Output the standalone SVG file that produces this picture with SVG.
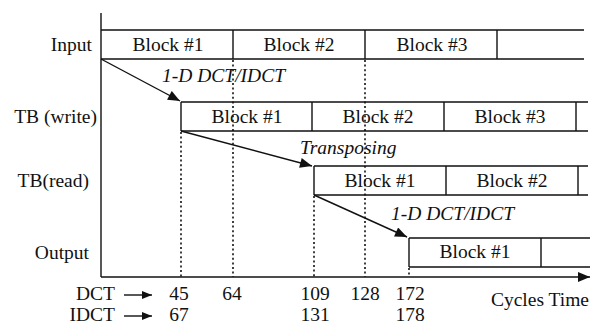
<svg xmlns="http://www.w3.org/2000/svg" width="590" height="327" viewBox="0 0 590 327">
<style>
text{font-family:'Liberation Serif','Times New Roman','DejaVu Serif',serif;font-size:19.5px;fill:#111}
.it{font-style:italic}
.m{text-anchor:middle}
.e{text-anchor:end}
.ln{stroke:#111;stroke-width:1.4;fill:none}
.dot{stroke:#111;stroke-width:1.6;stroke-dasharray:2 2.6;fill:none}
</style>
<defs>
<marker id="ah" viewBox="0 0 12 10" refX="12" refY="5" markerWidth="13" markerHeight="10" markerUnits="userSpaceOnUse" orient="auto">
<path d="M0,0 L12,5 L0,10 z" fill="#111"/>
</marker>
<marker id="sh" viewBox="0 0 10 8" refX="10" refY="4" markerWidth="10" markerHeight="8" markerUnits="userSpaceOnUse" orient="auto">
<path d="M0,0 L10,4 L0,8 z" fill="#111"/>
</marker>
</defs>
<g id="axes">
<line class="ln" x1="101" y1="13" x2="101" y2="277"/>
<line class="ln" x1="101" y1="277" x2="590" y2="277" marker-end="url(#ah)"/>
<text x="589" y="306" class="e">Cycles Time</text>
</g>
<g id="row-input">
<text x="92" y="51" class="e">Input</text>
<path class="ln" d="M101,30 H584 M101,59 H584 M233,30 V59 M365,30 V59 M497,30 V59"/>
<text x="168" y="51" class="m">Block #1</text>
<text x="299" y="51" class="m">Block #2</text>
<text x="432" y="51" class="m">Block #3</text>
</g>
<g id="row-tbwrite">
<text x="97" y="123" class="e">TB (write)</text>
<path class="ln" d="M181,102 H588 M181,131 H588 M181,102 V131 M312,102 V131 M444,102 V131 M576,102 V131"/>
<text x="247" y="123" class="m">Block #1</text>
<text x="378" y="123" class="m">Block #2</text>
<text x="510" y="123" class="m">Block #3</text>
</g>
<g id="row-tbread">
<text x="89" y="187" class="e">TB(read)</text>
<path class="ln" d="M314,166 H588 M314,195 H588 M314,166 V195 M446,166 V195 M578,166 V195"/>
<text x="380" y="187" class="m">Block #1</text>
<text x="512" y="187" class="m">Block #2</text>
</g>
<g id="row-output">
<text x="89" y="259" class="e">Output</text>
<path class="ln" d="M409,238 H590 M409,267 H590 M409,238 V267 M541,238 V267"/>
<text x="475" y="258" class="m">Block #1</text>
</g>
<g id="connectors">
<line class="ln" x1="101" y1="59" x2="180" y2="101" marker-end="url(#ah)"/>
<line class="ln" x1="181" y1="131" x2="312" y2="166" marker-end="url(#ah)"/>
<line class="ln" x1="314" y1="195" x2="407" y2="237" marker-end="url(#ah)"/>
<line class="dot" x1="181" y1="132" x2="181" y2="277"/>
<line class="dot" x1="233" y1="60" x2="233" y2="277"/>
<line class="dot" x1="314" y1="196" x2="314" y2="277"/>
<line class="dot" x1="365" y1="60" x2="365" y2="277"/>
<line class="dot" x1="409" y1="268" x2="409" y2="277"/>
<line class="ln" x1="124" y1="295" x2="152" y2="295" marker-end="url(#sh)"/>
<line class="ln" x1="124" y1="316" x2="152" y2="316" marker-end="url(#sh)"/>
</g>
<g id="labels">
<text x="162" y="82" class="it">1-D DCT/IDCT</text>
<text x="300" y="154" class="it">Transposing</text>
<text x="391" y="220" class="it">1-D DCT/IDCT</text>
<text x="115" y="300" class="e">DCT</text>
<text x="115" y="321" class="e">IDCT</text>
<text x="179" y="300" class="m">45</text>
<text x="232" y="300" class="m">64</text>
<text x="315" y="300" class="m">109</text>
<text x="365" y="300" class="m">128</text>
<text x="410" y="300" class="m">172</text>
<text x="179" y="321" class="m">67</text>
<text x="315" y="321" class="m">131</text>
<text x="410" y="321" class="m">178</text>
</g>
</svg>
